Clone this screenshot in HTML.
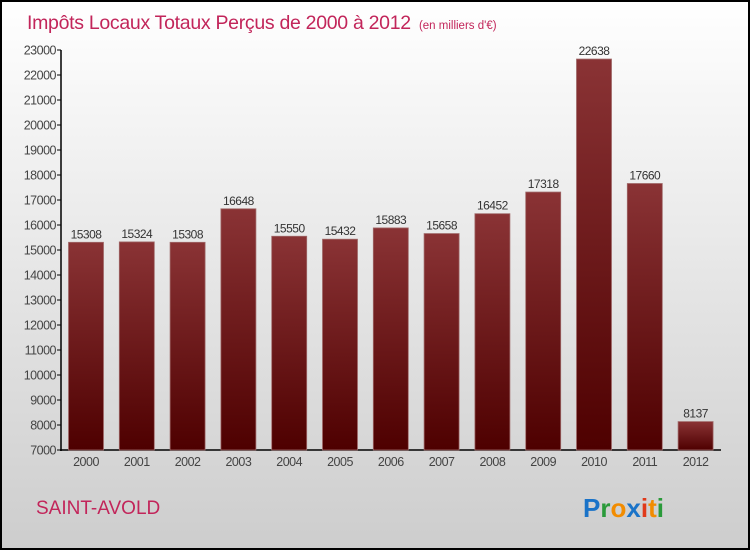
<!DOCTYPE html>
<html><head><meta charset="utf-8"><style>
body{margin:0;width:750px;height:550px;overflow:hidden;font-family:"Liberation Sans",sans-serif}
</style></head><body>
<svg id="chart" width="750" height="550" xmlns="http://www.w3.org/2000/svg">
<defs>
<linearGradient id="bg" x1="0" y1="0" x2="0" y2="1"><stop offset="0" stop-color="#ffffff"/><stop offset="1" stop-color="#cdcdcd"/></linearGradient>
<linearGradient id="bar" x1="0" y1="0" x2="0" y2="1"><stop offset="0" stop-color="#8a3335"/><stop offset="1" stop-color="#4e0000"/></linearGradient>
</defs>
<rect x="1" y="1" width="748" height="548" fill="url(#bg)" stroke="#000" stroke-width="2"/>
<text x="27" y="29" font-size="19.5" fill="#c2255a" letter-spacing="-0.3">Impôts Locaux Totaux Perçus de 2000 à 2012 <tspan font-size="11.5" dx="3" letter-spacing="0">(en milliers d'€)</tspan></text>
<text x="36" y="514" font-size="19" fill="#c2255a">SAINT-AVOLD</text>
<g font-size="26" font-weight="bold" font-family="Liberation Sans, sans-serif">
<text x="583" y="517"><tspan fill="#1a73c8">P</tspan><tspan fill="#2a9a3a">r</tspan><tspan fill="#f28c00">o</tspan><tspan fill="#1a73c8">x</tspan><tspan fill="#e03a1a">i</tspan><tspan fill="#f28c00">t</tspan><tspan fill="#2a9a3a">i</tspan></text>
</g>
<g id="axes"></g><g id="bars"></g>
</svg>
<script>
const years=["2000","2001","2002","2003","2004","2005","2006","2007","2008","2009","2010","2011","2012"];
const values=[15308,15324,15308,16648,15550,15432,15883,15658,16452,17318,22638,17660,8137];
const yTicks=[7000,8000,9000,10000,11000,12000,13000,14000,15000,16000,17000,18000,19000,20000,21000,22000,23000];
const NS="http://www.w3.org/2000/svg";
const y=v=>450-(v-7000)*0.025;
const x=i=>86+i*50.8;
const ax=document.getElementById('axes'),bg=document.getElementById('bars');
function mk(tag,attrs,parent,txt){const e=document.createElementNS(NS,tag);for(const k in attrs)e.setAttribute(k,attrs[k]);if(txt!==undefined)e.textContent=txt;parent.appendChild(e);return e;}
let l=mk('line',{x1:61,y1:50,x2:61,y2:451,stroke:'#000','stroke-width':1.5},ax);


l=mk('line',{x1:60,y1:450,x2:721,y2:450,stroke:'#000','stroke-width':1.5},ax);


yTicks.forEach(t=>{
 const tk=mk('line',{x1:57,x2:61,y1:y(t),y2:y(t),stroke:'#000'},ax);
 
 
 const tx=mk('text',{x:56,y:y(t)+4.5,'text-anchor':'end','font-size':12.5,fill:'#444','letter-spacing':'-0.5'},ax,t);
 
 
});
years.forEach((yr,i)=>{
 const v=values[i];
 const r=mk('rect',{x:x(i)-17.5,y:y(v),width:35,height:450-y(v),fill:'url(#bar)',stroke:'#a06a6a','stroke-width':0.8},bg);
 
 
 const vl=mk('text',{x:x(i),y:y(v)-4,'text-anchor':'middle','font-size':12,fill:'#333','letter-spacing':'-0.5'},bg,v);
 
 
 const xl=mk('text',{x:x(i),y:466,'text-anchor':'middle','font-size':12.5,fill:'#444','letter-spacing':'-0.5'},bg,yr);
 
 
});
</script>
</body></html>
